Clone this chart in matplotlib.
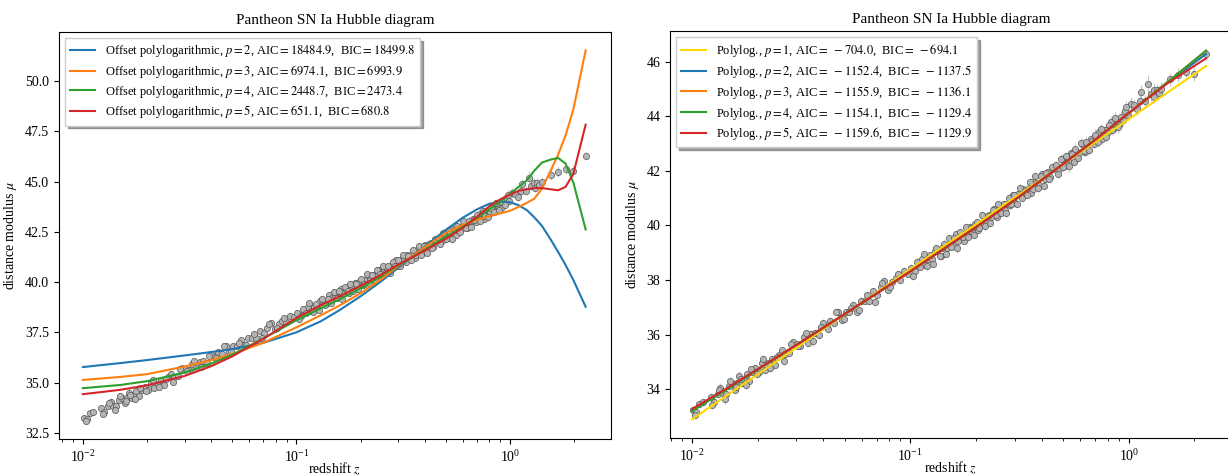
import numpy as np
import matplotlib
matplotlib.use("Agg")
import matplotlib.pyplot as plt

plt.rcParams['font.family'] = ['Liberation Serif', 'DejaVu Serif']
plt.rcParams['mathtext.fontset'] = 'stix'

# --- Pantheon SN Ia data ---
z_low = [0.0101, 0.0104, 0.0108, 0.0122, 0.0126, 0.0131, 0.0135, 0.0139, 0.0143, 0.0148,
         0.0152, 0.0157, 0.0161, 0.0165, 0.0169, 0.0173, 0.0178, 0.0183, 0.0189, 0.0195,
         0.0202, 0.0209, 0.0216, 0.0224, 0.0232, 0.0241, 0.0250, 0.0259, 0.0268, 0.0279,
         0.0290, 0.0301, 0.0313, 0.0326, 0.0339, 0.0352, 0.0366, 0.0381, 0.0397, 0.0413,
         0.0430, 0.0448, 0.0466, 0.0485, 0.0505, 0.0526, 0.0548, 0.0571, 0.0595, 0.0620,
         0.0646, 0.0673, 0.0701, 0.0730, 0.0760, 0.0792, 0.0825, 0.0859, 0.0895, 0.0932, 0.0971]
mu_low = [33.23, 33.19, 33.47, 33.72, 33.54, 33.82, 34.04, 33.85, 33.84, 34.12,
          34.25, 33.99, 34.24, 34.50, 34.23, 34.35, 34.56, 34.31, 34.64, 34.79,
          34.65, 34.98, 34.72, 34.95, 35.13, 34.89, 35.27, 35.43, 35.29, 35.32,
          35.72, 35.65, 35.60, 35.91, 35.70, 36.04, 36.06, 35.99, 36.42, 36.27,
          36.52, 36.43, 36.83, 36.54, 36.82, 36.84, 37.10, 36.85, 37.23, 37.24,
          37.22, 37.59, 37.45, 37.73, 37.97, 37.65, 37.93, 38.08, 38.00, 38.33, 38.24]
err_low = [0.15, 0.12, 0.14, 0.13, 0.16, 0.12, 0.18, 0.13, 0.12, 0.15,
           0.14, 0.13, 0.12, 0.16, 0.14, 0.12, 0.13, 0.15, 0.12, 0.14,
           0.13, 0.15, 0.12, 0.14, 0.13, 0.16, 0.12, 0.13, 0.15, 0.12,
           0.14, 0.13, 0.12, 0.15, 0.13, 0.12, 0.14, 0.13, 0.16, 0.12,
           0.13, 0.14, 0.15, 0.12, 0.13, 0.14, 0.12, 0.13, 0.15, 0.12,
           0.14, 0.13, 0.12, 0.15, 0.16, 0.13, 0.12, 0.14, 0.13, 0.15, 0.12]

z_low2 = [0.0103, 0.0112, 0.0124, 0.0133, 0.0141, 0.0150, 0.0159, 0.0167, 0.0176, 0.0186,
          0.0198, 0.0212, 0.0228, 0.0245, 0.0263, 0.0284, 0.0307, 0.0332, 0.0359, 0.0389,
          0.0421, 0.0457, 0.0495, 0.0537, 0.0583, 0.0633, 0.0687, 0.0745, 0.0808, 0.0877]
mu_low2 = [33.07, 33.53, 33.43, 33.96, 33.63, 34.32, 34.08, 34.39, 34.17, 34.74,
           34.58, 35.11, 34.79, 35.20, 35.05, 35.66, 35.57, 36.05, 35.76, 36.30,
           36.20, 36.84, 36.58, 36.99, 36.89, 37.44, 37.20, 37.90, 37.74, 38.23]
err_low2 = [0.14, 0.13, 0.15, 0.12, 0.16, 0.13, 0.12, 0.14, 0.15, 0.13,
            0.12, 0.16, 0.14, 0.13, 0.15, 0.12, 0.14, 0.13, 0.16, 0.12,
            0.15, 0.13, 0.14, 0.12, 0.16, 0.13, 0.15, 0.14, 0.12, 0.13]

z_mid = [0.101, 0.105, 0.109, 0.113, 0.117, 0.121, 0.125, 0.129, 0.133, 0.138,
         0.142, 0.147, 0.152, 0.156, 0.161, 0.166, 0.171, 0.176, 0.181, 0.187,
         0.192, 0.198, 0.204, 0.210, 0.216, 0.222, 0.229, 0.235, 0.242, 0.249,
         0.256, 0.263, 0.270, 0.278, 0.286, 0.294, 0.302, 0.311, 0.320, 0.329,
         0.338, 0.348, 0.358, 0.368, 0.379, 0.390, 0.401, 0.413, 0.425, 0.437, 0.450]
mu_mid = [38.46, 38.33, 38.57, 38.78, 38.54, 38.78, 38.77, 39.06, 39.07, 38.89,
          39.34, 39.19, 39.37, 39.24, 39.68, 39.45, 39.68, 39.45, 39.76, 39.95,
          39.77, 40.06, 39.85, 40.09, 40.36, 40.10, 40.37, 40.31, 40.59, 40.30,
          40.62, 40.74, 40.56, 40.80, 40.76, 41.11, 40.81, 41.14, 41.10, 41.33,
          41.15, 41.38, 41.19, 41.59, 41.56, 41.50, 41.87, 41.70, 41.94, 41.76, 42.05]
err_mid = [0.13, 0.12, 0.14, 0.15, 0.12, 0.13, 0.12, 0.14, 0.13, 0.12,
           0.15, 0.12, 0.13, 0.14, 0.16, 0.12, 0.13, 0.14, 0.12, 0.13,
           0.12, 0.14, 0.13, 0.12, 0.15, 0.13, 0.12, 0.14, 0.13, 0.15,
           0.12, 0.14, 0.13, 0.12, 0.14, 0.15, 0.13, 0.12, 0.14, 0.13,
           0.15, 0.12, 0.14, 0.13, 0.15, 0.14, 0.13, 0.16, 0.14, 0.15, 0.14]

z_mid2 = [0.103, 0.107, 0.111, 0.115, 0.119, 0.123, 0.127, 0.131, 0.136, 0.140,
          0.145, 0.150, 0.154, 0.159, 0.164, 0.169, 0.174, 0.179, 0.184, 0.190,
          0.195, 0.201, 0.207, 0.213, 0.219, 0.226, 0.232, 0.239, 0.246, 0.253,
          0.260, 0.267, 0.274, 0.282, 0.290, 0.298, 0.307, 0.316, 0.325, 0.334,
          0.343, 0.353, 0.363, 0.374, 0.385, 0.396, 0.407, 0.419, 0.431, 0.444]
mu_mid2 = [38.14, 38.66, 38.48, 38.94, 38.52, 38.92, 38.60, 39.17, 38.88, 39.16,
           38.97, 39.53, 39.23, 39.54, 39.17, 39.75, 39.57, 39.93, 39.58, 39.91,
           39.64, 40.13, 39.92, 40.39, 39.98, 40.35, 40.08, 40.58, 40.40, 40.78,
           40.44, 40.79, 40.44, 41.02, 40.78, 41.11, 40.78, 41.36, 41.02, 41.28,
           41.10, 41.60, 41.33, 41.80, 41.37, 41.81, 41.46, 41.91, 41.71, 42.15]
err_mid2 = [0.13, 0.15, 0.12, 0.14, 0.16, 0.12, 0.13, 0.15, 0.14, 0.12,
            0.13, 0.15, 0.12, 0.14, 0.16, 0.12, 0.13, 0.15, 0.14, 0.12,
            0.13, 0.15, 0.12, 0.14, 0.16, 0.12, 0.13, 0.15, 0.14, 0.12,
            0.13, 0.15, 0.12, 0.14, 0.16, 0.12, 0.13, 0.15, 0.14, 0.12,
            0.13, 0.15, 0.12, 0.14, 0.16, 0.12, 0.13, 0.15, 0.14, 0.12]

z_high = [0.465, 0.480, 0.495, 0.510, 0.526, 0.542, 0.559, 0.576, 0.594, 0.612,
          0.631, 0.650, 0.670, 0.690, 0.711, 0.733, 0.755, 0.778, 0.802, 0.826,
          0.851, 0.877, 0.904, 0.931, 0.960, 0.989, 1.02]
mu_high = [42.21, 42.07, 42.43, 42.19, 42.43, 42.64, 42.34, 42.72, 42.67, 43.00,
           42.70, 43.01, 43.15, 42.99, 43.19, 43.44, 43.15, 43.51, 43.44, 43.80,
           43.55, 43.86, 43.67, 43.95, 44.18, 44.05, 44.45]
err_high = [0.15, 0.14, 0.16, 0.15, 0.14, 0.17, 0.15, 0.16, 0.14, 0.18,
            0.15, 0.16, 0.17, 0.15, 0.16, 0.18, 0.17, 0.16, 0.18, 0.19,
            0.17, 0.18, 0.20, 0.19, 0.22, 0.20, 0.25]

z_high2 = [0.472, 0.487, 0.502, 0.518, 0.534, 0.550, 0.567, 0.585, 0.603, 0.621,
           0.640, 0.660, 0.680, 0.700, 0.722, 0.744, 0.766, 0.790, 0.814, 0.838,
           0.864, 0.890, 0.917, 0.945, 0.975]
mu_high2 = [41.90, 42.44, 42.15, 42.53, 42.16, 42.60, 42.80, 42.48, 43.02, 42.71,
            43.04, 42.75, 43.11, 43.33, 43.06, 43.54, 43.31, 43.25, 43.69, 43.48,
            43.93, 43.59, 43.97, 43.86, 44.33]
err_high2 = [0.16, 0.18, 0.15, 0.17, 0.19, 0.16, 0.18, 0.17, 0.20, 0.16,
             0.19, 0.17, 0.18, 0.21, 0.17, 0.19, 0.18, 0.20, 0.22, 0.18,
             0.21, 0.19, 0.22, 0.20, 0.24]

z_hst = [1.06, 1.09, 1.12, 1.14, 1.19, 1.23, 1.26, 1.30, 1.31, 1.34, 1.37, 1.41,
         1.55, 1.68, 1.82, 1.98, 2.26]
mu_hst = [44.40, 44.25, 44.55, 44.90, 44.55, 45.17, 44.80, 44.95, 44.70, 44.95, 44.85, 44.98,
          45.35, 45.50, 45.62, 45.55, 46.27]
err_hst = [0.22, 0.20, 0.25, 0.24, 0.22, 0.35, 0.23, 0.25, 0.22, 0.24, 0.22, 0.26,
           0.25, 0.25, 0.22, 0.26, 0.20]

# --- fitted curves, left panel (offset polylogarithmic) ---
z_fit_left = [0.01, 0.015, 0.02, 0.03, 0.04, 0.05, 0.07, 0.1, 0.13, 0.16, 0.2, 0.25, 0.3, 0.35,
              0.4, 0.5, 0.6, 0.7, 0.8, 0.9, 1.0, 1.1, 1.2, 1.3, 1.41, 1.55, 1.68, 1.82, 1.98, 2.26]
mu_off_p2 = [35.77, 35.97, 36.12, 36.35, 36.52, 36.66, 36.98, 37.50, 38.05, 38.62, 39.30, 40.05,
             40.72, 41.28, 41.78, 42.60, 43.20, 43.62, 43.90, 44.00, 43.98, 43.82, 43.58, 43.22,
             42.80, 42.12, 41.50, 40.85, 40.10, 38.77]
mu_off_p3 = [35.13, 35.28, 35.42, 35.80, 36.12, 36.42, 36.98, 37.75, 38.35, 38.85, 39.45, 40.15,
             40.80, 41.30, 41.75, 42.45, 42.85, 43.10, 43.28, 43.42, 43.55, 43.75, 43.95, 44.15,
             44.65, 45.55, 46.35, 47.30, 48.60, 51.54]
mu_off_p4 = [34.72, 34.88, 35.07, 35.50, 35.95, 36.38, 37.20, 38.10, 38.70, 39.15, 39.70, 40.30,
             40.85, 41.25, 41.62, 42.25, 42.75, 43.20, 43.62, 44.00, 44.40, 44.75, 45.07, 45.55,
             45.95, 46.10, 46.18, 45.90, 44.95, 42.62]
mu_off_p5 = [34.42, 34.64, 34.86, 35.33, 35.82, 36.30, 37.18, 38.22, 38.85, 39.30, 39.82, 40.38,
             40.88, 41.25, 41.58, 42.15, 42.70, 43.25, 43.78, 44.12, 44.35, 44.55, 44.62, 44.68,
             44.68, 44.62, 44.57, 44.74, 45.40, 47.84]
labels_left = [
    r'Offset polylogarithmic, $p=2$, AIC$=18484.9$,  BIC$=18499.8$',
    r'Offset polylogarithmic, $p=3$, AIC$=6974.1$,  BIC$=6993.9$',
    r'Offset polylogarithmic, $p=4$, AIC$=2448.7$,  BIC$=2473.4$',
    r'Offset polylogarithmic, $p=5$, AIC$=651.1$,  BIC$=680.8$',
]

# --- fitted curves, right panel (polylog) ---
z_fit_right = [0.01, 0.015, 0.02, 0.03, 0.05, 0.07, 0.1, 0.15, 0.2, 0.3, 0.5, 0.7, 1.0, 1.5, 2.26]
mu_pl_p1 = [32.90, 33.87, 34.55, 35.52, 36.74, 37.55, 38.40, 39.37, 40.04, 41.02, 42.24, 43.04, 43.89, 44.86, 45.84]
mu_pl_p2 = [33.26, 34.11, 34.74, 35.62, 36.76, 37.51, 38.32, 39.27, 39.94, 40.93, 42.25, 43.13, 44.11, 45.22, 46.28]
mu_pl_p3 = [33.24, 34.10, 34.73, 35.62, 36.76, 37.51, 38.32, 39.27, 39.94, 40.93, 42.25, 43.13, 44.11, 45.24, 46.40]
mu_pl_p4 = [33.20, 34.08, 34.72, 35.62, 36.76, 37.51, 38.32, 39.27, 39.94, 40.93, 42.25, 43.13, 44.11, 45.24, 46.40]
mu_pl_p5 = [33.28, 34.12, 34.74, 35.62, 36.76, 37.51, 38.32, 39.27, 39.94, 40.93, 42.25, 43.13, 44.12, 45.20, 46.12]
labels_right = [
    r'Polylog., $p=1$, AIC$=\ -704.0$,  BIC$=\ -694.1$',
    r'Polylog., $p=2$, AIC$=\ -1152.4$,  BIC$=\ -1137.5$',
    r'Polylog., $p=3$, AIC$=\ -1155.9$,  BIC$=\ -1136.1$',
    r'Polylog., $p=4$, AIC$=\ -1154.1$,  BIC$=\ -1129.4$',
    r'Polylog., $p=5$, AIC$=\ -1159.6$,  BIC$=\ -1129.9$',
]

z_data = np.array(z_low + z_low2 + z_mid + z_mid2 + z_high + z_high2 + z_hst)
mu_data = np.array(mu_low + mu_low2 + mu_mid + mu_mid2 + mu_high + mu_high2 + mu_hst)
mu_err = np.array(err_low + err_low2 + err_mid + err_mid2 + err_high + err_high2 + err_hst)


def draw_data(ax):
    ax.errorbar(z_data, mu_data, yerr=mu_err, fmt='none', ecolor='#c4c4c4', elinewidth=0.8, zorder=1)
    ax.plot(z_data, mu_data, 'o', ms=4.5, mfc='#b4b4b4', mec='#555555', mew=0.5, zorder=2)


fig = plt.figure(figsize=(12.28, 4.75), dpi=100)
ax1 = fig.add_axes([59 / 1228, 36 / 475, 552 / 1228, 407 / 475])
ax2 = fig.add_axes([670 / 1228, 37 / 475, 562 / 1228, 407 / 475])

# left panel
draw_data(ax1)
for mu, c, lab in zip([mu_off_p2, mu_off_p3, mu_off_p4, mu_off_p5],
                      ['tab:blue', 'tab:orange', 'tab:green', 'tab:red'], labels_left):
    ax1.plot(z_fit_left, mu, color=c, lw=1.5, label=lab, zorder=3)
ax1.set_xscale('log')
ax1.set_xlim(0.00773, 2.97)
ax1.set_ylim(32.19, 52.45)

# right panel
draw_data(ax2)
for mu, c, lab in zip([mu_pl_p1, mu_pl_p2, mu_pl_p3, mu_pl_p4, mu_pl_p5],
                      ['gold', 'tab:blue', 'tab:orange', 'tab:green', 'tab:red'], labels_right):
    ax2.plot(z_fit_right, mu, color=c, lw=1.5, label=lab, zorder=3)
ax2.set_xscale('log')
ax2.set_xlim(0.00793, 2.97)
ax2.set_ylim(32.22, 47.12)

for ax in (ax1, ax2):
    ax.set_title('Pantheon SN Ia Hubble diagram', fontsize=11)
    ax.set_xlabel(r'redshift $z$', fontsize=10, labelpad=-3)
    ax.set_ylabel(r'distance modulus $\mu$', fontsize=10)
    ax.tick_params(labelsize=10)
    ax.legend(loc='upper left', fontsize=9, shadow=True, fancybox=False, labelspacing=0.3)

fig.savefig('out.png', dpi=100)
